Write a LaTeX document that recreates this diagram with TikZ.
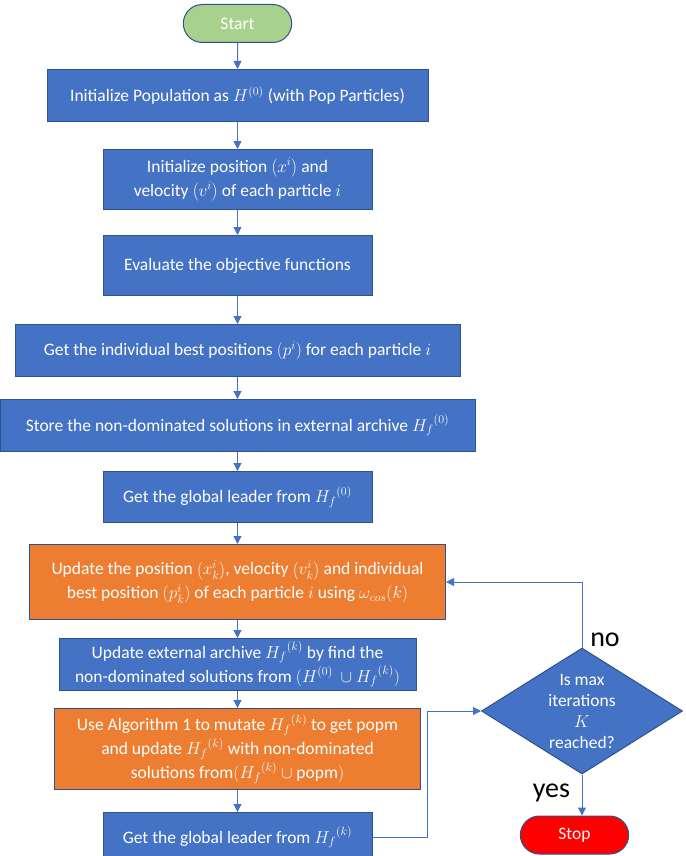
\documentclass[tikz,border=0pt]{standalone}
\usepackage{fontspec}
\setmainfont{Carlito}
\usetikzlibrary{arrows.meta,positioning,shapes.geometric,shapes.misc}
\definecolor{boxblue}{HTML}{4472C4}
\definecolor{boxorange}{HTML}{ED7D31}
\definecolor{boxline}{HTML}{2F528F}
\definecolor{startgreen}{HTML}{A9D18E}
\newcommand{\Hf}[1]{{H_f}^{(#1)}}

\begin{document}
\begin{tikzpicture}[x=1pt, y=1pt, node distance=20pt, every node/.style={font=\fontsize{17.5}{24}\selectfont}]
\tikzset{box/.style={draw=boxline, line width=1pt, fill=boxblue, text=white, align=center, inner sep=2pt}}
\tikzset{obox/.style={box, fill=boxorange}}
\tikzset{term/.style={rounded rectangle, draw=boxline, line width=1pt, text=white, minimum width=115pt, minimum height=38pt}}
\tikzset{decision/.style={diamond, aspect=1.6, draw=boxline, line width=1pt, fill=boxblue, text=white, align=center, inner sep=0pt, minimum width=201pt, minimum height=126pt, font=\fontsize{17.5}{21}\selectfont}}
\tikzset{lbl/.style={font=\fontsize{28}{30}\selectfont, anchor=base, inner sep=0pt}}
\tikzset{arrow/.style={-{Triangle[length=8pt, width=8pt]}, line width=1pt, draw=boxblue}}
\useasboundingbox (0,0) rectangle (685,-856);
\node[term, fill=startgreen] (start) at (237.5,-23.5) {Start};
\node[box, minimum width=381pt, minimum height=52pt, below=26pt of start] (initpop) {Initialize Population as $H^{(0)}$\ (with Pop Particles)};
\node[box, minimum width=269pt, minimum height=60pt, below=27pt of initpop] (initpos) {Initialize position $\left(x^{i}\right)$ and\\velocity $\left(v^{i}\right)$ of each particle $i$};
\node[box, minimum width=269pt, minimum height=60pt, below=25pt of initpos] (evalobj) {Evaluate the objective functions};
\node[box, minimum width=445pt, minimum height=52pt, below=28pt of evalobj] (pbest) {Get the individual best positions $(p^{i})$ for each particle $i$};
\node[box, minimum width=475pt, minimum height=52pt, below=22pt of pbest] (archive) {Store the non-dominated solutions in external archive $\Hf{0}$};
\node[box, minimum width=269pt, minimum height=51pt, below=19pt of archive] (leader) {Get the global leader from $\Hf{0}$};
\node[obox, minimum width=416pt, minimum height=75pt, below=21pt of leader] (update) {Update the position $\left(x_k^{i}\right)$, velocity $\left(v_k^{i}\right)$ and individual\\best position $(p_k^{i})$ of each particle $i$ using $\omega_{cos}(k)$};
\node[box, minimum width=357pt, minimum height=52pt, below=18pt of update] (updarch) {Update external archive $\Hf{k}$ by find the\\non-dominated solutions from $(H^{(0)}\ \cup \Hf{k})$};
\node[obox, minimum width=366pt, minimum height=81pt, below=17pt of updarch] (mutate) {Use Algorithm 1 to mutate $\Hf{k}$ to get popm\\and update $\Hf{k}$ with non-dominated\\solutions from$(\Hf{k} \cup \mathrm{popm})$};
\node[box, minimum width=269pt, minimum height=50pt, below=22pt of mutate] (leaderk) {Get the global leader from $\Hf{k}$};
\node[decision] (maxit) at (582,-711) {Is max\\iterations\\$K$\\reached?};
\node[term, fill=red, below=41pt of maxit, xshift=-7.5pt] (stop) {Stop};
\node[lbl] (nolbl) at (605,-646) {no};
\node[lbl] (yeslbl) at (551.5,-797) {yes};
\draw[arrow] (start) -- (initpop);
\draw[arrow] (initpop) -- (initpos);
\draw[arrow] (initpos) -- (evalobj);
\draw[arrow] (evalobj) -- (pbest);
\draw[arrow] (pbest) -- (archive);
\draw[arrow] (archive) -- (leader);
\draw[arrow] (leader) -- (update);
\draw[arrow] (update) -- (updarch);
\draw[arrow] (updarch) -- (mutate);
\draw[arrow] (mutate) -- (leaderk);
\draw[arrow] (leaderk.east) -- ++(54.5,0) |- (maxit.west);
\draw[arrow] (maxit.north) |- (update.east);
\draw[arrow] (maxit.south) -- (maxit.south |- stop.north);
\end{tikzpicture}
\end{document}
